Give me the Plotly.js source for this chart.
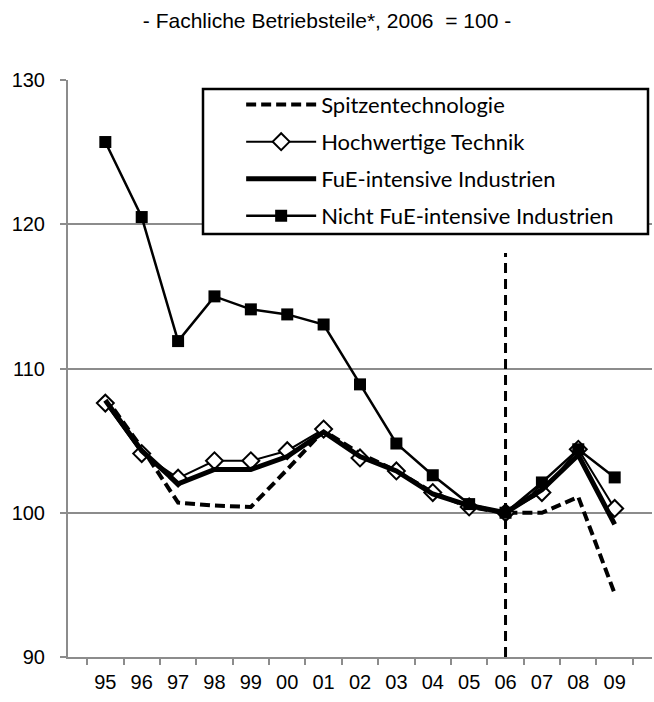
<!DOCTYPE html>
<html>
<head>
<meta charset="utf-8">
<script src="https://cdn.plot.ly/plotly-3.0.1.min.js"></script>
<style>html,body{margin:0;padding:0;background:#fff;}#chart{width:654px;height:702px;}</style>
</head>
<body>
<div id="chart"></div>
<script>
// ---- data ----
const years = ['95','96','97','98','99','00','01','02','03','04','05','06','07','08','09'];
const spitzentechnologie = [108.0, 104.5, 100.7, 100.5, 100.4, 103.0, 105.7, 104.1, 102.9, 101.4, 100.4, 100.0, 100.0, 101.1, 94.4];
const hochwertigeTechnik = [107.6, 104.1, 102.4, 103.6, 103.6, 104.3, 105.8, 103.8, 102.9, 101.4, 100.4, 100.0, 101.4, 104.4, 100.3];
const fueIntensiv = [107.8, 104.3, 102.0, 103.0, 103.0, 103.9, 105.6, 103.9, 102.9, 101.3, 100.5, 100.0, 101.6, 104.0, 99.2];
const nichtFueIntensiv = [125.7, 120.5, 111.9, 115.0, 114.1, 113.75, 113.05, 108.9, 104.8, 102.6, 100.6, 100.0, 102.1, 104.4, 102.45];
const seriesNames = ['Spitzentechnologie', 'Hochwertige Technik', 'FuE-intensive Industrien', 'Nicht FuE-intensive Industrien'];
const titleText = '- Fachliche Betriebsteile*, 2006  = 100 -';
const baseYear = '06';
const baseLineTop = 118;
const yTicks = [90, 100, 110, 120, 130];

const grid = '#8c8c8c';
const traces = [
  {x: years, y: spitzentechnologie, name: seriesNames[0], mode: 'lines', legendgroup: 'a',
   line: {color: '#000', width: 4, dash: '10px,5px'}},
  {x: years, y: hochwertigeTechnik, name: seriesNames[1], mode: 'lines+markers', legendgroup: 'b',
   line: {color: '#000', width: 2},
   marker: {symbol: 'diamond', size: 13, color: '#fff', line: {color: '#000', width: 2}}},
  {x: years, y: fueIntensiv, name: seriesNames[2], mode: 'lines', legendgroup: 'c',
   line: {color: '#000', width: 5}},
  {x: years, y: nichtFueIntensiv, name: seriesNames[3], mode: 'lines+markers', legendgroup: 'd',
   line: {color: '#000', width: 2.5},
   marker: {symbol: 'square', size: 12, color: '#000', line: {color: '#000', width: 0}}}
];

const layout = {
  width: 654, height: 702,
  margin: {l: 68, r: 2, t: 80, b: 45},
  paper_bgcolor: '#fff', plot_bgcolor: '#fff',
  font: {family: '"Liberation Sans", Arial, sans-serif', color: '#000', size: 20},
  title: {text: titleText, x: 0.5, xref: 'container', y: 1 - 21/702, yref: 'container', yanchor: 'middle',
          font: {size: 21, family: '"Liberation Sans", Arial, sans-serif', color: '#000'}},
  xaxis: {type: 'category', showgrid: false, showline: true, linecolor: grid, linewidth: 2,
          ticks: 'outside', tickson: 'boundaries', ticklen: 6, tickcolor: grid, tickwidth: 2,
          tickfont: {size: 20}, ticklabelstandoff: 6, zeroline: false, fixedrange: true},
  yaxis: {range: [90, 130], tickvals: yTicks, showgrid: true, gridcolor: grid, gridwidth: 2,
          showline: true, linecolor: grid, linewidth: 2, ticks: 'outside', ticklen: 6, tickcolor: grid, tickwidth: 2,
          tickfont: {size: 20}, ticklabelstandoff: 11, zeroline: false, fixedrange: true},
  showlegend: true,
  legend: {x: 0.2965, y: 0.9935, xanchor: 'left', yanchor: 'top', bgcolor: 'rgba(0,0,0,0)', borderwidth: 0,
           traceorder: 'grouped', tracegroupgap: 5.5, itemwidth: 70,
           font: {family: 'Lato, "Open Sans", sans-serif', size: 22, color: '#000'}},
  shapes: [
    {type: 'rect', xref: 'paper', yref: 'paper', x0: (203-68)/584, x1: (648-68)/584, y0: (657-234)/577, y1: (657-89)/577,
     fillcolor: '#fff', line: {color: '#000', width: 2.5}, layer: 'above'},
    {type: 'line', xref: 'x', yref: 'y', x0: years.indexOf(baseYear), x1: years.indexOf(baseYear), y0: 90, y1: baseLineTop,
     line: {color: '#000', width: 3, dash: '10px,6px'}, layer: 'above'}
  ]
};

Plotly.newPlot('chart', traces, layout, {displayModeBar: false, staticPlot: true});
</script>
</body>
</html>
